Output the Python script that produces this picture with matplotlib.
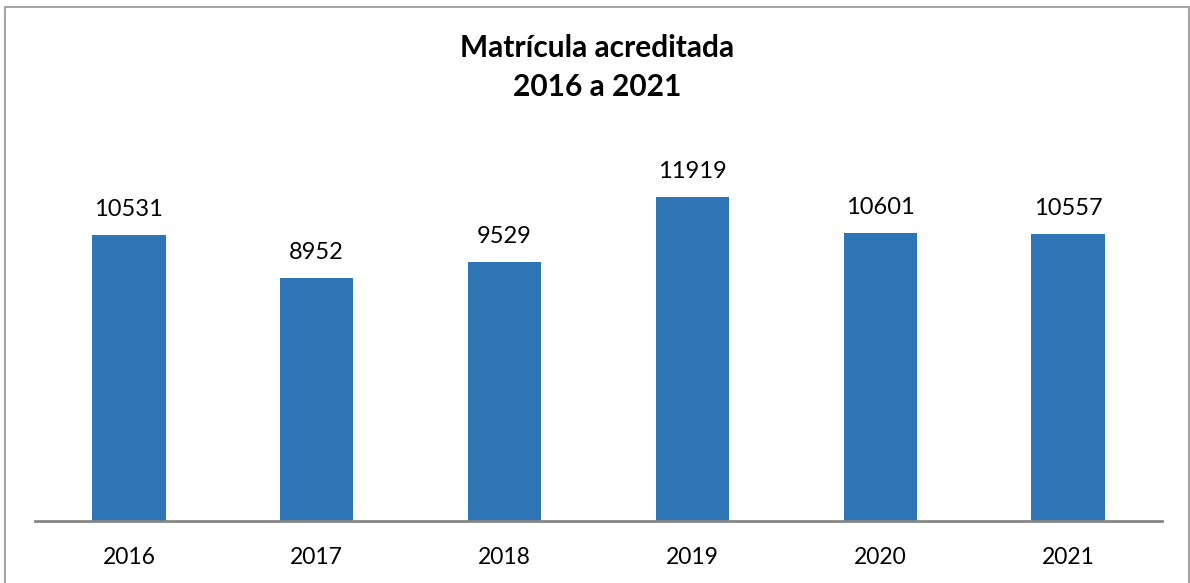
import matplotlib.pyplot as plt
from matplotlib.patches import Rectangle

anios = ['2016', '2017', '2018', '2019', '2020', '2021']
matricula = [10531, 8952, 9529, 11919, 10601, 10557]

plt.rcParams['font.family'] = ['Lato', 'DejaVu Sans']

fig = plt.figure(figsize=(11.9, 5.83), dpi=100)
W, H = 1190, 583
ax = fig.add_axes([35 / W, (H - 521) / H, (1162 - 35) / W, (521 - 141) / H])

x = range(len(anios))
barras = ax.bar(x, matricula, width=0.39, color='#2E75B6')
for b, v in zip(barras, matricula):
    ax.annotate(str(v), (b.get_x() + b.get_width() / 2, v), xytext=(0, 11),
                textcoords='offset points', ha='center', va='bottom', fontsize=17)

ax.set_xlim(-0.5, len(anios) - 0.5)
ax.set_ylim(0, 14000)
ax.set_xticks(list(x))
ax.set_xticklabels(anios, fontsize=16.5)
ax.tick_params(axis='x', length=0, pad=19)
ax.set_yticks([])
for s in ['top', 'right', 'left']:
    ax.spines[s].set_visible(False)
ax.spines['bottom'].set_color('#868686')
ax.spines['bottom'].set_linewidth(2)

fig.text(597 / W, 1 - 48 / H, 'Matrícula acreditada', ha='center', va='center',
         fontsize=21.5, fontweight='bold')
fig.text(597 / W, 1 - 87 / H, '2016 a 2021', ha='center', va='center',
         fontsize=21.5, fontweight='bold')

# marco del gráfico
fig.patches.append(Rectangle((5 / W, -0.05), (1189 - 5) / W, 1.05 - 7 / H,
                             transform=fig.transFigure, fill=False,
                             edgecolor='#A6A6A6', linewidth=1.5))

fig.savefig('out.png', dpi=100)
